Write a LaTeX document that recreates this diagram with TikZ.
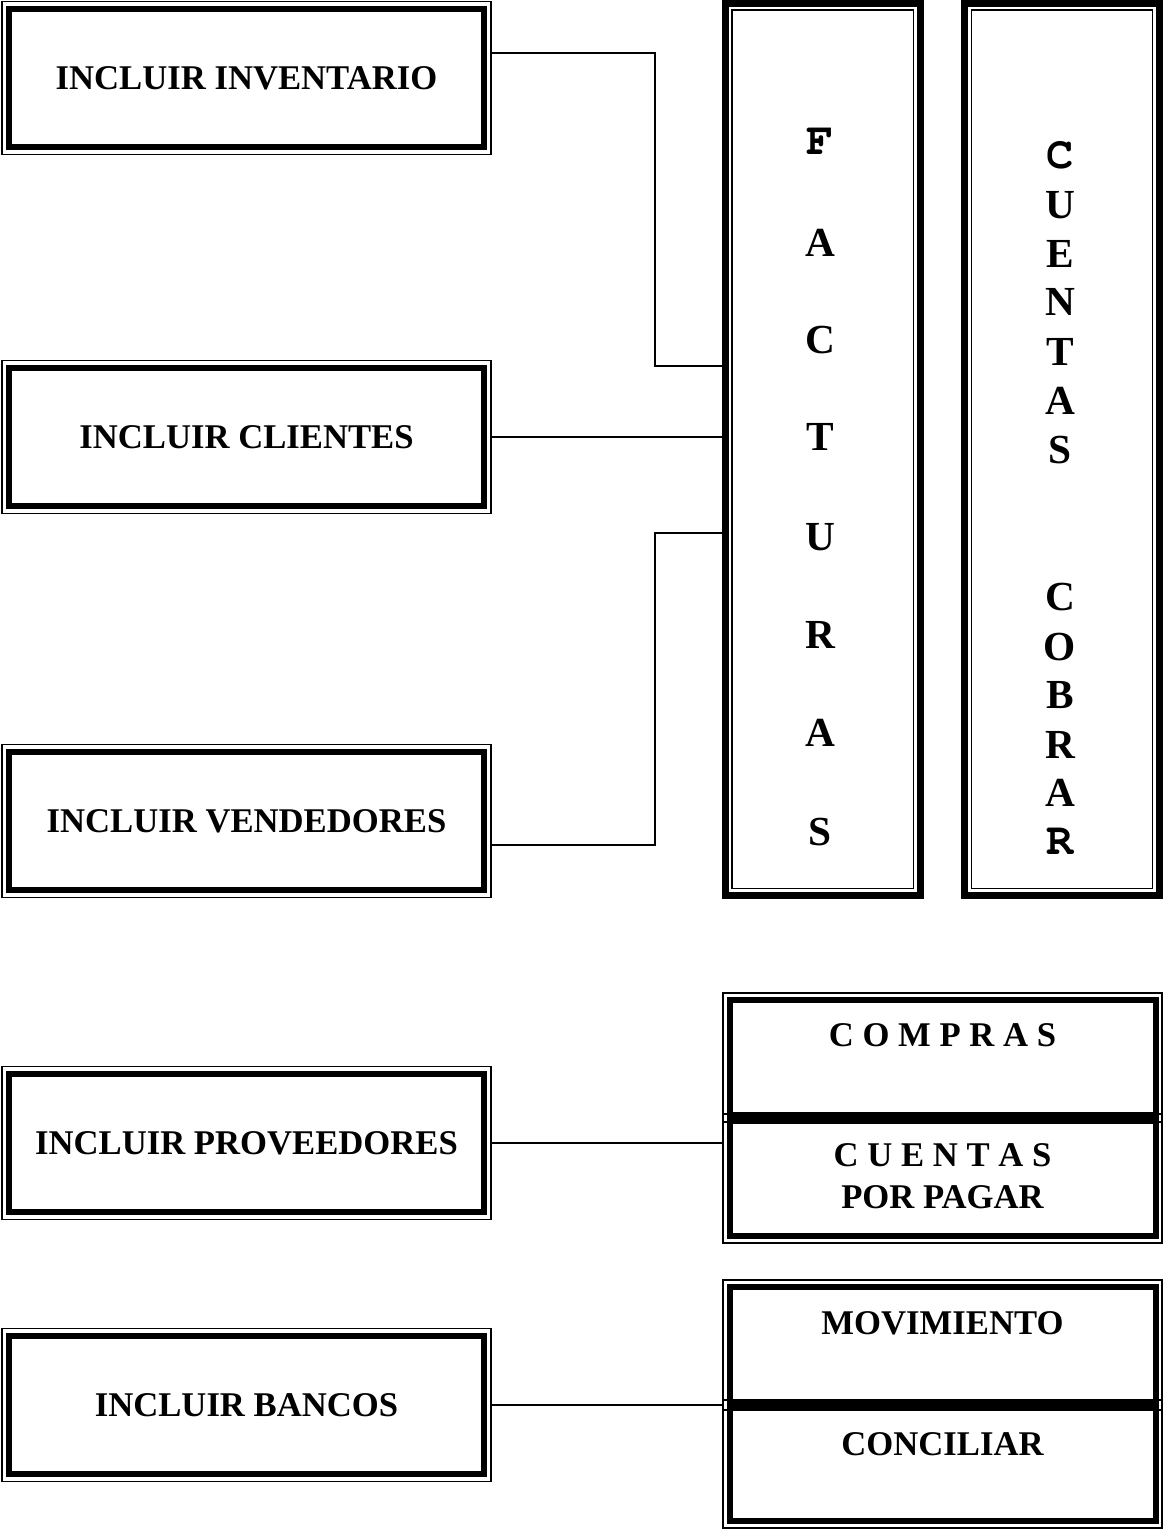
\documentclass[tikz,border=0pt]{standalone}
\usepackage{fontspec}
\setmainfont{Liberation Serif}
\newcommand\courierfont{\fontencoding{T1}\fontfamily{pcr}\fontseries{b}\fontsize{34}{40}\selectfont}
\usetikzlibrary{calc}

\tikzset{
  boxfont/.style={font=\fontsize{26}{31.5}\selectfont\bfseries},
  colfont/.style={font=\fontsize{31}{37}\selectfont\bfseries},
  outerline/.style={draw, line width=0.9pt, inner sep=0pt},
  menubox/.style={outerline, minimum width=366.75pt, minimum height=114.75pt, boxfont},
  subbox/.style={outerline, minimum width=329.25pt},
  pillar/.style={draw, line width=5.25pt, inner sep=0pt, minimum width=146.25pt, minimum height=669pt},
  heavyline/.style={line width=4.5pt},
  hairline/.style={line width=0.9pt},
  link/.style={line width=0.9pt},
  boxtext/.style={inner sep=0pt, boxfont},
  letter/.style={inner sep=0pt, colfont},
}

\begin{document}
\begin{tikzpicture}[x=0.75pt,y=0.75pt,yscale=-1,xscale=1]
	\useasboundingbox (0,0) rectangle (1163,1531);

	%Shape: Rectangle [menu boxes]
	\node [menubox] (inv) at (246.5,78) {INCLUIR INVENTARIO};
	\draw [heavyline] ($(inv.north west)+(8,8)$) rectangle ($(inv.south east)+(-8,-8)$) ;
	\node [menubox] (cli) at (246.5,437) {INCLUIR CLIENTES};
	\draw [heavyline] ($(cli.north west)+(8,8)$) rectangle ($(cli.south east)+(-8,-8)$) ;
	\node [menubox] (ven) at (246.5,821) {INCLUIR VENDEDORES};
	\draw [heavyline] ($(ven.north west)+(8,8)$) rectangle ($(ven.south east)+(-8,-8)$) ;
	\node [menubox] (pro) at (246.5,1143) {INCLUIR PROVEEDORES};
	\draw [heavyline] ($(pro.north west)+(8,8)$) rectangle ($(pro.south east)+(-8,-8)$) ;
	\node [menubox] (ban) at (246.5,1405) {INCLUIR BANCOS};
	\draw [heavyline] ($(ban.north west)+(8,8)$) rectangle ($(ban.south east)+(-8,-8)$) ;

	%Shape: Rectangle [tall columns]
	\node [pillar] (fac) at (823,449.5) {};
	\draw [hairline] ($(fac.north west)+(10,10)$) rectangle ($(fac.south east)+(-10.5,-10.5)$) ;
	\node [pillar] (cxc) at (1062.25,449.5) {};
	\draw [hairline] ($(cxc.north west)+(10,10)$) rectangle ($(cxc.south east)+(-10.5,-10.5)$) ;

	%Shape: Rectangle [compras / cuentas por pagar]
	\node [subbox, minimum height=96.75pt] (com) at (942.5,1057.5) {};
	\node [subbox, minimum height=96.75pt] (cxp) at (942.5,1178.5) {};
	\draw [heavyline] ($(com.north west)+(7.5,7.5)$) rectangle ($(com.south east)+(-7,-7.5)$) ;
	\draw [heavyline] ($(cxp.north west)+(7.5,7.5)$) rectangle ($(cxp.south east)+(-7,-7.5)$) ;

	%Shape: Rectangle [movimiento / conciliar]
	\node [subbox, minimum height=97.5pt] (mov) at (942.5,1345) {};
	\node [subbox, minimum height=96pt] (con) at (942.5,1464) {};
	\draw [heavyline] ($(mov.north west)+(7.5,7.5)$) rectangle ($(mov.south east)+(-7,-7.5)$) ;
	\draw [heavyline] ($(con.north west)+(7.5,7.5)$) rectangle ($(con.south east)+(-7,-7.5)$) ;

	%Straight Lines
	\draw [link] ($(inv.east)+(0,-25)$) -| ($(fac.west)+(-67,-83.5)$) -- ($(fac.west)+(0,-83.5)$) ;
	\draw [link] (cli.east) -- (cli.east -| fac.west) ;
	\draw [link] ($(ven.east)+(0,24)$) -| ($(fac.west)+(-67,83.5)$) -- ($(fac.west)+(0,83.5)$) ;
	\draw [link] (pro.east) -- (pro.east -| cxp.west) ;
	\draw [link] (ban.east) -- (ban.east -| con.west) ;

	% Text Node
	\node [letter] (f1) at (820,142) {\courierfont F};
	\node [letter] (f2) at (820,243) {A};
	\node [letter] (f3) at (820,340) {C};
	\node [letter] (f4) at (820,437) {T};
	\node [letter] (f5) at (820,537) {U};
	\node [letter] (f6) at (820,635) {R};
	\node [letter] (f7) at (820,733) {A};
	\node [letter] (f8) at (820,832) {S};
	% Text Node
	\node [letter] (c1) at (1060,155) {\courierfont C};
	\node [letter] (c2) at (1060,205) {U};
	\node [letter] (c3) at (1060,254) {E};
	\node [letter] (c4) at (1060,302) {N};
	\node [letter] (c5) at (1060,352) {T};
	\node [letter] (c6) at (1060,401) {A};
	\node [letter] (c7) at (1060,450) {S};
	\node [letter] (c8) at (1060,597) {C};
	\node [letter] (c9) at (1060,647) {O};
	\node [letter] (c10) at (1060,695) {B};
	\node [letter] (c11) at (1060,745) {R};
	\node [letter] (c12) at (1060,793) {A};
	\node [letter] (c13) at (1060,842) {\courierfont R};
	% Text Node
	\node [boxtext] (tcom) at (942.5,1035) {C O M P R A S};
	\node [boxtext, align=center] (tcxp) at (942.5,1176) {C U E N T A S\\POR PAGAR};
	\node [boxtext] (tmov) at (942.5,1323) {MOVIMIENTO};
	\node [boxtext] (tcon) at (942.5,1444) {CONCILIAR};

\end{tikzpicture}
\end{document}
